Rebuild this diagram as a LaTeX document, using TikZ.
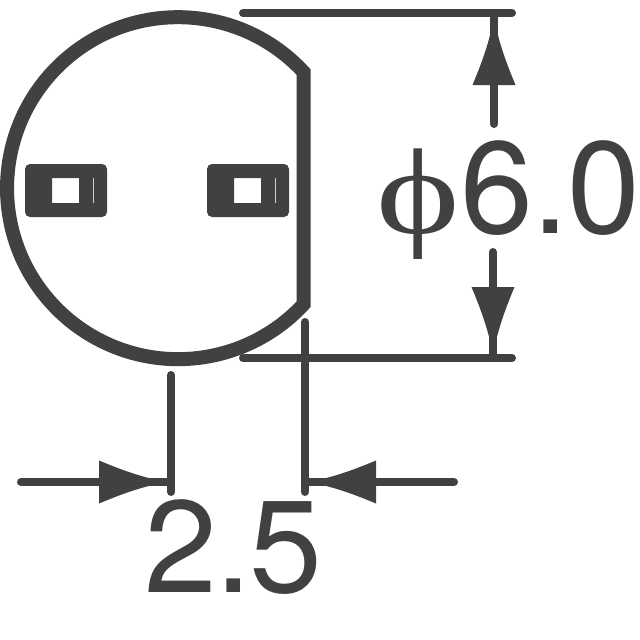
\documentclass[tikz,border=0pt]{standalone}
\usepackage{fontspec}
\setmainfont{TeX Gyre Heros}
\newfontfamily\phifont[FakeStretch=1.3]{Liberation Serif}
\definecolor{inkgray}{HTML}{414042}
\begin{document}
\begin{tikzpicture}[x=1pt,y=-1pt,line join=round,line cap=round,color=inkgray,font=\fontsize{131}{131}\selectfont]
	\useasboundingbox (0,0) rectangle (640,640);
	%Body
	\draw[line width=14pt,line join=miter] (303.5,72) arc[start angle=-42.8,end angle=-317.2,radius=171] -- cycle;
	%Pads
	\foreach \x in {25,207} {
		\fill[rounded corners=5pt,even odd rule] (\x,164) rectangle (\x+82,217)
		[sharp corners] (\x+27,178) rectangle (\x+54,203);
		\draw[white!75!inkgray,line width=.4pt,line cap=butt] (\x+68.5,178)--(\x+68.5,203);
	}
	%Dimension lines
	\draw[line width=8pt]
	(243,13)--(512,13)
	(243,358)--(512,358)
	(171,375)--(171,492)
	(305,322)--(305,492)
	(494,17)--(494,124)
	(493,252)--(493,355)
	(21,482)--(167,482)
	(454,482)--(308,482)
	;
	%Arrowheads
	\foreach \x/\y/\a in {494/17/90, 493/355/-90, 167/482/0, 308/482/180} {
		\fill[shift={(\x,\y)},rotate=\a,y=1pt] (1,0) .. controls (-25,-4) and (-50,-14) .. (-68,-21.5) -- (-68,21.5) .. controls (-50,14) and (-25,4) .. (1,0) -- cycle;
	}
	%Labels
	\node[inner sep=0pt,anchor=base west] (diameter) at (376,233) {{\phifont\fontsize{122}{122}\selectfont\char"03D5}\kern1pt 6\kern-1pt.\kern-1pt 0};
	\node[inner sep=0pt,anchor=base west] (pitch) at (144,592) {2\kern-2pt.\kern-2pt 5};
\end{tikzpicture}
\end{document}
